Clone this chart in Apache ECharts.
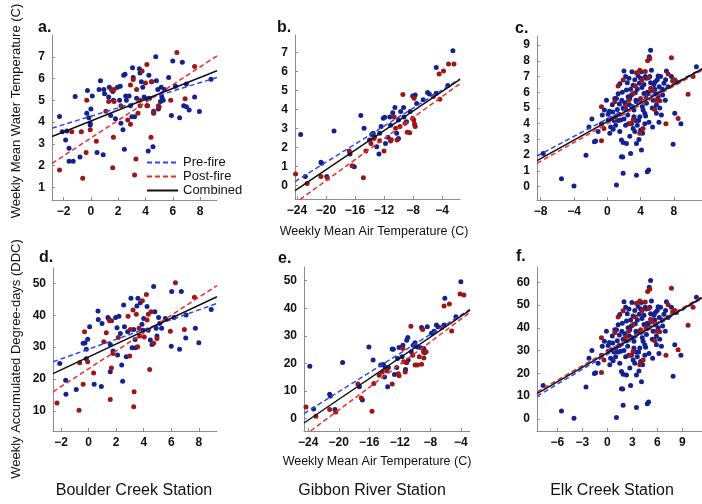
<!DOCTYPE html>
<html>
<head>
<meta charset="utf-8">
<script src="https://cdn.jsdelivr.net/npm/echarts@6/dist/echarts.min.js"></script>
<style>
html, body { margin: 0; padding: 0; background: #fff; }
#chart { width: 702px; height: 504px; }
</style>
</head>
<body>
<div id="chart"></div>
<script>
// 数据：每个面板的散点 [气温, 水温/积温]
const aBlue = [[-2.3,4.26],[-2.1,3.56],[-1.76,3.59],[-1.85,3.18],[-1.6,2.8],[-1.6,2.2],[-1.3,2.2],[-1.15,5.18],[-0.8,2.4],[-0.3,4.4],[-0.25,5.45],[-0.15,4.2],[-0.05,3.95],[-0.05,3.87],[0.1,5.2],[0,4.6],[0.45,2.6],[0.7,5.9],[0.6,5.5],[0.9,2.5],[0.95,5.5],[1.0,5.3],[1.3,5.15],[1.35,5.6],[1.45,4.3],[1.6,5.4],[1.65,5.0],[1.8,4.15],[1.95,5.6],[2.1,5.0],[2.15,5.65],[2.2,3.95],[2.35,3.65],[2.4,6.15],[2.5,6.2],[2.55,5.2],[2.45,2.75],[2.6,5.0],[2.8,5.2],[2.9,4.75],[3.0,4.25],[3.05,6.5],[3.1,6.05],[3.2,4.25],[3.35,5.1],[3.55,6.45],[3.6,6.25],[3.7,5.85],[3.8,5.6],[3.9,5.15],[4.1,5.07],[4.15,4.75],[4.2,2.67],[4.25,6.15],[4.3,5.1],[4.45,5.85],[4.55,2.87],[4.6,4.5],[4.6,4.4],[4.75,7.0],[4.8,5.9],[4.9,5.5],[4.95,4.6],[5.1,4.95],[5.15,5.6],[5.2,5.15],[5.4,5.5],[5.7,6.05],[5.9,4.3],[6.0,6.8],[6.2,5.65],[6.5,4.2],[6.7,6.75],[6.8,4.75],[7.0,4.7],[7.0,5.75],[7.2,4.55],[7.6,5.15],[7.95,4.48],[8.8,5.97],[5.3,5.0]];
const aRed = [[-2.3,1.8],[-1.4,3.55],[-0.7,3.55],[-0.6,1.42],[-0.35,2.6],[-0.3,5.0],[-0.05,3.65],[0.4,3.12],[1.1,4.5],[1.3,4.95],[1.5,5.5],[1.7,5.5],[1.65,3.3],[1.6,1.9],[1.7,4.95],[2.2,4.75],[2.7,4.1],[2.9,5.7],[2.9,3.9],[3.1,5.95],[3.2,1.57],[3.3,2.3],[3.35,5.5],[3.45,4.4],[3.6,5.0],[3.75,6.35],[3.6,4.75],[4.1,4.75],[4.1,6.65],[4.4,3.3],[4.45,5.85],[4.6,4.45],[4.95,4.75],[5.0,4.7],[5.85,5.0],[6.3,7.2],[6.9,5.07],[7.6,6.55],[4.0,5.8]];

const bBlue = [[-23.5,2.68],[-22.85,0.46],[-20.7,1.21],[-20.6,1.16],[-19.9,0.46],[-18.9,2.86],[-16.7,1.65],[-16.1,0.98],[-15.2,3.68],[-14.75,3.0],[-13.7,2.68],[-13.5,2.74],[-13.3,2.56],[-13.0,2.03],[-12.7,1.65],[-12.4,3.09],[-12.1,3.53],[-11.9,3.58],[-11.8,2.2],[-11.45,2.53],[-11.2,3.6],[-11.1,3.16],[-10.8,3.82],[-10.5,4.1],[-10.25,2.74],[-10.0,2.47],[-9.7,3.88],[-9.25,3.6],[-8.9,3.35],[-8.4,3.88],[-8.05,4.7],[-7.7,4.75],[-7.5,4.3],[-6.6,4.5],[-6.0,4.88],[-5.75,4.8],[-4.8,6.2],[-4.8,4.84],[-3.2,5.25],[-2.5,7.08],[-12.6,2.74],[-14.0,2.38],[-10.0,3.44],[-9.3,4.1]];
const bRed = [[-24.2,0.6],[-22.6,0.1],[-20.7,0.46],[-19.8,0.37],[-16.8,1.8],[-16.4,1.03],[-14.85,0.4],[-14.5,1.8],[-13.8,2.2],[-13.4,2.47],[-12.6,2.35],[-12.0,1.8],[-11.1,2.33],[-11.0,2.4],[-10.6,3.6],[-10.4,3.0],[-10.2,2.38],[-9.8,3.1],[-9.4,4.78],[-9.1,3.26],[-8.8,2.79],[-8.45,2.77],[-8.05,3.53],[-7.85,4.58],[-7.9,3.44],[-7.8,3.23],[-7.7,3.09],[-5.2,4.67],[-4.4,5.86],[-4.3,4.53],[-3.8,6.02],[-3.1,6.39],[-2.35,6.39]];

const cBlue = [[-7.7,2.1],[-5.5,0.5],[-4.0,0.04],[-2.56,2.0],[-2.2,3.8],[-1.85,4.3],[-1.55,2.85],[-1.4,2.9],[-1.1,3.5],[-0.7,4.0],[-0.6,4.55],[-0.35,4.87],[-0.1,5.5],[0.1,4.6],[0.1,4.24],[0.25,4.8],[0.3,3.4],[0.4,3.8],[0.5,4.34],[0.65,4.75],[0.7,3.65],[0.9,5.6],[1.0,4.45],[1.0,3.9],[1.1,0.1],[1.2,4.9],[1.3,5.9],[1.45,5.25],[1.5,6.55],[1.6,4.24],[1.7,2.97],[1.7,1.9],[1.85,1.88],[1.9,0.85],[1.9,2.8],[2.0,7.35],[2.1,5.34],[2.2,3.9],[2.2,7.0],[2.3,6.14],[2.3,2.75],[2.45,4.55],[2.5,5.72],[2.65,5.2],[2.7,3.2],[2.8,2.1],[2.9,4.0],[2.96,7.3],[3.1,6.45],[3.2,4.87],[3.2,4.45],[3.3,6.8],[3.36,5.97],[3.44,5.5],[3.5,2.75],[3.5,0.72],[3.6,3.9],[3.76,4.2],[3.84,6.57],[3.9,5.5],[4.0,3.6],[4.1,2.33],[4.16,6.3],[4.24,3.4],[4.3,4.87],[4.4,5.93],[4.5,4.0],[4.56,7.0],[4.7,5.3],[4.8,0.95],[4.96,1.06],[5.04,8.26],[5.2,8.68],[5.3,7.4],[5.36,6.14],[5.44,3.8],[5.5,5.5],[5.6,4.98],[5.76,6.67],[5.9,5.2],[6.1,5.72],[6.24,6.36],[6.4,7.0],[6.5,4.55],[6.64,5.83],[6.8,6.57],[6.96,5.5],[7.1,7.35],[7.3,6.36],[7.7,7.0],[7.9,2.69],[8.1,4.66],[8.3,6.67],[8.84,4.0],[10.7,7.63],[1.5,3.5],[1.75,5.5],[2.56,4.0],[2.9,5.83],[3.3,3.5],[3.9,4.45],[4.5,4.66],[4.9,5.93],[5.7,6.2],[5.9,4.66],[6.1,7.03],[0.6,5.2],[1.1,5.6],[1.4,4.6],[1.8,6.0],[2.0,4.3],[2.4,6.6],[2.6,6.9],[2.8,6.2],[3.0,5.1],[3.4,4.2],[3.6,6.2],[3.7,7.05],[4.0,6.9],[4.2,5.1],[4.4,6.5],[4.6,4.5],[4.8,6.0],[5.0,4.1],[5.2,6.6],[5.4,5.0],[5.8,5.9],[6.0,6.8],[6.3,5.0],[6.6,6.2],[7.0,6.8],[2.2,4.9],[3.1,3.7],[3.8,3.0],[1.3,4.2],[0.8,4.2],[4.1,7.3],[5.1,7.0],[2.7,5.6],[3.5,5.4],[4.7,6.9],[1.9,5.0],[6.2,4.1],[5.6,6.5]];
const cRed = [[-0.7,5.08],[-0.7,2.92],[-0.4,3.7],[0.9,5.4],[1.3,6.4],[1.9,6.78],[2.2,5.13],[2.56,5.5],[2.7,4.0],[3.1,5.93],[3.36,6.4],[3.5,7.25],[3.9,7.4],[3.9,3.4],[4.16,6.78],[4.3,3.7],[4.56,7.33],[4.64,5.72],[4.84,8.0],[4.96,6.93],[5.1,8.13],[5.2,6.25],[5.35,6.1],[5.7,4.9],[5.9,5.5],[6.3,5.47],[7.04,4.0],[7.3,7.16],[7.7,8.2],[7.84,6.72],[8.1,6.8],[8.5,4.34],[9.7,5.87],[10.3,7.0],[3.1,4.24],[4.0,5.6]];

const dBlue = [[-2.1,24.9],[-1.67,19.6],[-1.65,15.2],[-0.9,16.7],[-0.4,31.2],[-0.27,31.3],[-0.17,29.3],[-0.17,26.4],[-0.07,32.5],[0.07,36.4],[0.4,18.4],[0.68,41.3],[0.7,38.7],[0.92,17.7],[0.97,37.4],[1.4,39.3],[1.48,38.7],[1.57,30.8],[1.57,22.3],[1.77,28.8],[1.96,39.3],[2.06,36.1],[2.1,27.5],[2.2,39.7],[2.3,34.3],[2.4,24.4],[2.47,19.3],[2.54,43.2],[2.6,36.4],[2.73,27.0],[2.83,34.8],[3.07,45.3],[3.15,29.8],[3.27,35.5],[3.37,32.4],[3.4,29.8],[3.5,42.9],[3.58,45.3],[3.75,43.9],[3.87,37.2],[3.95,35.3],[4.0,39.0],[4.24,42.7],[4.33,35.3],[4.48,32.2],[4.6,30.8],[4.72,49.0],[4.8,41.1],[4.9,35.9],[4.96,33.5],[5.08,39.3],[5.15,37.4],[5.3,35.9],[5.57,39.0],[6.0,30.3],[6.03,47.4],[6.2,39.3],[6.6,29.3],[6.73,47.4],[7.05,32.9],[7.07,40.1],[7.75,35.9],[8.0,31.4],[8.9,41.8]];
const dRed = [[-2.3,12.5],[-0.7,10.2],[-0.65,25.1],[-0.4,18.4],[-0.3,34.8],[-0.07,25.4],[0.36,21.9],[1.1,31.7],[1.28,34.5],[1.53,38.3],[1.67,38.3],[1.57,13.6],[1.65,23.5],[1.77,28.0],[2.15,33.0],[2.86,39.7],[2.98,27.2],[3.03,35.5],[3.22,41.6],[3.27,11.3],[3.3,16.0],[3.46,40.3],[3.56,30.1],[3.66,35.9],[3.7,33.5],[3.9,44.5],[4.04,33.2],[4.19,46.5],[4.43,23.0],[4.53,41.1],[4.72,31.2],[4.96,32.7],[5.93,35.0],[6.3,50.2],[6.95,35.5],[7.68,45.6],[4.24,38.5],[4.33,40.3]];

const eBlue = [[-23.8,19.0],[-23.3,3.5],[-21.2,8.8],[-21.1,8.2],[-20.5,3.3],[-19.5,20.3],[-17.3,11.5],[-16.9,6.7],[-16.05,26.0],[-15.5,21.2],[-14.5,19.4],[-14.15,19.6],[-13.9,18.5],[-14.0,15.1],[-13.6,11.5],[-13.5,18.5],[-13.0,25.2],[-12.85,25.1],[-12.7,16.0],[-12.4,18.5],[-12.3,21.8],[-12.1,25.8],[-11.7,22.4],[-11.6,26.6],[-11.25,17.8],[-11.1,28.4],[-10.95,29.4],[-10.9,21.2],[-10.5,24.2],[-10.25,26.6],[-10.0,27.5],[-9.7,26.0],[-9.3,25.7],[-9.15,33.0],[-8.85,25.4],[-8.75,23.9],[-8.4,33.3],[-7.85,30.9],[-7.5,31.7],[-7.2,33.9],[-7.0,33.3],[-6.2,33.9],[-6.1,43.6],[-4.65,36.9],[-4.0,49.6]];
const eRed = [[-24.3,4.2],[-23.0,0.85],[-21.2,3.3],[-20.4,2.4],[-17.5,12.5],[-17.05,7.5],[-15.65,2.7],[-15.4,12.7],[-14.7,15.7],[-14.3,16.9],[-13.7,17.3],[-13.0,12.5],[-12.2,16.3],[-12.1,15.5],[-11.6,25.4],[-11.5,20.6],[-11.3,16.9],[-11.1,20.2],[-10.55,33.5],[-10.3,23.0],[-10.0,19.4],[-9.7,19.4],[-9.45,22.4],[-9.15,19.7],[-9.0,32.3],[-8.9,24.2],[-8.85,22.0],[-8.55,24.2],[-6.5,33.0],[-6.2,40.8],[-5.5,41.5],[-5.2,31.8],[-4.1,45.2],[-3.6,44.8]];

const fBlue = [[-7.7,14.7],[-5.5,3.5],[-4.0,0.3],[-2.56,14.0],[-2.2,26.6],[-1.85,30.1],[-1.55,20.0],[-1.4,20.3],[-1.1,24.5],[-0.7,28.0],[-0.6,31.9],[-0.35,34.1],[-0.1,38.5],[0.1,32.2],[0.1,29.7],[0.25,33.6],[0.3,23.8],[0.4,26.6],[0.5,30.4],[0.65,33.3],[0.7,25.6],[0.9,39.2],[1.0,31.2],[1.0,27.3],[1.1,0.7],[1.2,34.3],[1.3,41.3],[1.45,36.8],[1.5,45.9],[1.6,29.7],[1.7,20.8],[1.7,13.3],[1.85,13.2],[1.9,6.0],[1.9,19.6],[2.0,51.5],[2.1,37.4],[2.2,27.3],[2.2,49.0],[2.3,43.0],[2.3,19.3],[2.45,31.9],[2.5,40.0],[2.65,36.4],[2.7,22.4],[2.8,14.7],[2.9,28.0],[2.96,51.1],[3.1,45.2],[3.2,34.1],[3.2,31.2],[3.3,47.6],[3.36,41.8],[3.44,38.5],[3.5,19.3],[3.5,5.0],[3.6,27.3],[3.76,29.4],[3.84,46.0],[3.9,38.5],[4.0,25.2],[4.1,16.3],[4.16,44.1],[4.24,23.8],[4.3,34.1],[4.4,41.5],[4.5,28.0],[4.56,49.0],[4.7,37.1],[4.8,6.7],[4.96,7.4],[5.04,57.8],[5.2,60.8],[5.3,51.8],[5.36,43.0],[5.44,26.6],[5.5,38.5],[5.6,34.9],[5.76,46.7],[5.9,36.4],[6.1,40.0],[6.24,44.5],[6.4,49.0],[6.5,31.9],[6.64,40.8],[6.8,46.0],[6.96,38.5],[7.1,51.5],[7.3,44.5],[7.7,49.0],[7.9,18.8],[8.1,32.6],[8.3,46.7],[8.84,28.0],[10.7,53.4],[1.5,24.5],[1.75,38.5],[2.56,28.0],[2.9,40.8],[3.3,24.5],[3.9,31.2],[4.5,32.6],[4.9,41.5],[5.7,43.4],[5.9,32.6],[6.1,49.2],[0.6,36.4],[1.1,39.2],[1.4,32.2],[1.8,42.0],[2.0,30.1],[2.4,46.2],[2.6,48.3],[2.8,43.4],[3.0,35.7],[3.4,29.4],[3.6,43.4],[3.7,49.4],[4.0,48.3],[4.2,35.7],[4.4,45.5],[4.6,31.5],[4.8,42.0],[5.0,28.7],[5.2,46.2],[5.4,35.0],[5.8,41.3],[6.0,47.6],[6.3,35.0],[6.6,43.4],[7.0,47.6],[2.2,34.3],[3.1,25.9],[3.8,21.0],[1.3,29.4],[0.8,29.4],[4.1,51.1],[5.1,49.0],[2.7,39.2],[3.5,37.8],[4.7,48.3],[1.9,35.0],[6.2,28.7],[5.6,45.5]];
const fRed = [[-0.7,35.6],[-0.7,20.4],[-0.4,25.9],[0.9,37.8],[1.3,44.8],[1.9,47.5],[2.2,35.9],[2.56,38.5],[2.7,28.0],[3.1,41.5],[3.36,44.8],[3.5,50.8],[3.9,51.8],[3.9,23.8],[4.16,47.5],[4.3,25.9],[4.56,51.3],[4.64,40.0],[4.84,56.0],[4.96,48.5],[5.1,56.9],[5.2,43.8],[5.35,42.7],[5.7,34.3],[5.9,38.5],[6.3,38.3],[7.04,28.0],[7.3,50.1],[7.7,57.4],[7.84,47.0],[8.1,47.6],[8.5,30.4],[9.7,41.1],[10.3,49.0],[3.1,29.7],[4.0,39.2]];

// 回归线端点 [起点, 终点]
const aPre = [[-2.85,3.72],[9.24,6.05]];
const aPost = [[-2.85,2.10],[9.24,7.04]];
const aAll = [[-2.85,3.34],[9.24,6.36]];
const bPre = [[-24.28,0.2],[-1.52,5.6]];
const bPost = [[-23.6,-0.75],[-1.52,5.35]];
const bAll = [[-24.28,-0.28],[-1.52,5.58]];
const cPre = [[-8.44,1.95],[11.37,7.5]];
const cPost = [[-8.44,1.48],[11.37,7.4]];
const cAll = [[-8.44,1.65],[11.37,7.48]];
const dPre = [[-2.59,25.4],[9.32,43.7]];
const dPost = [[-2.59,16.0],[9.32,49.3]];
const dAll = [[-2.59,21.7],[9.32,45.8]];
const ePre = [[-24.56,1.8],[-2.8,39.6]];
const ePost = [[-23.7,-4.5],[-2.8,38.5]];
const eAll = [[-24.56,-1.6],[-2.8,39.3]];
const fPre = [[-8.44,10.0],[11.37,52.9]];
const fPost = [[-8.44,11.9],[11.37,53.7]];
const fAll = [[-8.44,11.1],[11.37,53.2]];

// 刻度
const boulderX = [-2, 0, 2, 4, 6, 8];
const gibbonX = [-24, -20, -16, -12, -8, -4];
const elkX = [-8, -4, 0, 4, 8];
const elkX2 = [-6, -3, 0, 3, 6, 9];
const waterY1 = [1, 2, 3, 4, 5, 6, 7];
const waterY2 = [0, 1, 2, 3, 4, 5, 6, 7];
const waterY3 = [0, 1, 2, 3, 4, 5, 6, 7, 8, 9];
const ddcY1 = [10, 20, 30, 40, 50];
const ddcY2 = [0, 10, 20, 30, 40, 50];
const ddcY3 = [0, 10, 20, 30, 40, 50, 60];

const stations = ['Boulder Creek Station', 'Gibbon River Station', 'Elk Creek Station'];
const FONT = "'Liberation Sans', Arial, Helvetica, sans-serif";
const BLUE_PT = '#14218f';
const RED_PT = '#9c1616';
const BLUE_LN = '#2f45f0';
const RED_LN = '#ee2a2a';

const panels = [
    { label: 'a.', grid: [52, 35, 165, 165], x: [-2.85, 9.24], y: [0.42, 8.0], xt: boulderX, yt: waterY1, blue: aBlue, red: aRed, lines: [aPre, aPost, aAll], lab: [38, 20] },
    { label: 'b.', grid: [295, 35, 165, 164], x: [-24.28, -1.52], y: [-0.72, 7.91], xt: gibbonX, yt: waterY2, blue: bBlue, red: bRed, lines: [bPre, bPost, bAll], lab: [277, 20] },
    { label: 'c.', grid: [537, 36, 165, 164], x: [-8.44, 11.37], y: [-0.85, 9.58], xt: elkX, yt: waterY3, blue: cBlue, red: cRed, lines: [cPre, cPost, cAll], lab: [515, 21] },
    { label: 'd.', grid: [53, 268, 164, 163], x: [-2.59, 9.32], y: [3.72, 54.8], xt: boulderX, yt: ddcY1, blue: dBlue, red: dRed, lines: [dPre, dPost, dAll], lab: [39, 250] },
    { label: 'e.', grid: [304, 267, 166, 164], x: [-24.56, -2.8], y: [-4.5, 54.96], xt: gibbonX, yt: ddcY2, blue: eBlue, red: eRed, lines: [ePre, ePost, eAll], lab: [278, 251] },
    { label: 'f.', grid: [537, 267, 165, 164], x: [-8.44, 11.37], y: [-5.28, 66.7], xt: elkX2, yt: ddcY3, blue: fBlue, red: fRed, lines: [fPre, fPost, fAll], lab: [516, 249] }
];

const chart = echarts.init(document.getElementById('chart'), null, { renderer: 'canvas' });

const fmt = v => String(v).replace('-', '\u2212');

function makeAxis(i, range, ticks, isX) {
    return {
        type: 'value',
        gridIndex: i,
        min: range[0],
        max: range[1],
        axisLine: { show: true, onZero: false, lineStyle: { color: '#8c8c8c', width: 1 } },
        axisTick: { show: true, inside: true, length: 3, customValues: ticks, lineStyle: { color: '#8c8c8c' } },
        axisLabel: {
            customValues: ticks,
            formatter: fmt,
            color: '#111',
            fontFamily: FONT,
            fontWeight: 'bold',
            fontSize: 12,
            margin: isX ? 6 : 7
        },
        splitLine: { show: false }
    };
}

const grids = [], xAxes = [], yAxes = [], series = [], graphics = [];

panels.forEach((p, i) => {
    grids.push({ left: p.grid[0], top: p.grid[1], width: p.grid[2], height: p.grid[3] });
    xAxes.push(makeAxis(i, p.x, p.xt, true));
    yAxes.push(makeAxis(i, p.y, p.yt, false));

    series.push({
        type: 'scatter', xAxisIndex: i, yAxisIndex: i, data: p.blue,
        symbolSize: 5, itemStyle: { color: BLUE_PT, opacity: 1 }, z: 2, silent: true
    });
    series.push({
        type: 'scatter', xAxisIndex: i, yAxisIndex: i, data: p.red,
        symbolSize: 5, itemStyle: { color: RED_PT, opacity: 1 }, z: 2, silent: true
    });
    const styles = [
        { name: 'Pre-fire', color: BLUE_LN, type: [5, 3] },
        { name: 'Post-fire', color: RED_LN, type: [5, 3] },
        { name: 'Combined', color: '#111', type: 'solid' }
    ];
    styles.forEach((s, k) => {
        series.push({
            name: s.name, type: 'line', xAxisIndex: i, yAxisIndex: i,
            data: p.lines[k], symbol: 'none', showSymbol: false, clip: true,
            lineStyle: { color: s.color, width: 1.5, type: s.type },
            itemStyle: { color: s.color }, z: 3, silent: true
        });
    });

    graphics.push({
        type: 'text', x: p.lab[0], y: p.lab[1],
        style: { text: p.label, font: `bold 16px ${FONT}`, fill: '#111' }
    });
});

// 轴标题与站名
graphics.push(
    { type: 'text', x: 16, y: 111, rotation: Math.PI / 2,
      style: { text: 'Weekly Mean Water Temperature (C)', font: `13px ${FONT}`, fill: '#111', align: 'center', verticalAlign: 'middle' } },
    { type: 'text', x: 16, y: 359, rotation: Math.PI / 2,
      style: { text: 'Weekly Accumulated Degree-days (DDC)', font: `13px ${FONT}`, fill: '#111', align: 'center', verticalAlign: 'middle' } },
    { type: 'text', x: 374, y: 232,
      style: { text: 'Weekly Mean Air Temperature (C)', font: `12.5px ${FONT}`, fill: '#111', align: 'center', verticalAlign: 'middle' } },
    { type: 'text', x: 377, y: 462,
      style: { text: 'Weekly Mean Air Temperature (C)', font: `12.5px ${FONT}`, fill: '#111', align: 'center', verticalAlign: 'middle' } }
);
[134, 372, 612].forEach((cx, k) => {
    graphics.push({
        type: 'text', x: cx, y: 491,
        style: { text: stations[k], font: `16px ${FONT}`, fill: '#111', align: 'center', verticalAlign: 'middle' }
    });
});

chart.setOption({
    backgroundColor: '#fff',
    animation: false,
    grid: grids,
    xAxis: xAxes,
    yAxis: yAxes,
    legend: {
        data: ['Pre-fire', 'Post-fire', 'Combined'],
        orient: 'vertical',
        left: 146, top: 156,
        itemWidth: 31, itemHeight: 8, itemGap: 1,
        padding: 0,
        selectedMode: false,
        itemStyle: { opacity: 0 },
        textStyle: { fontFamily: FONT, fontSize: 13, color: '#111', lineHeight: 12 }
    },
    series: series,
    graphic: graphics
});
</script>
</body>
</html>
